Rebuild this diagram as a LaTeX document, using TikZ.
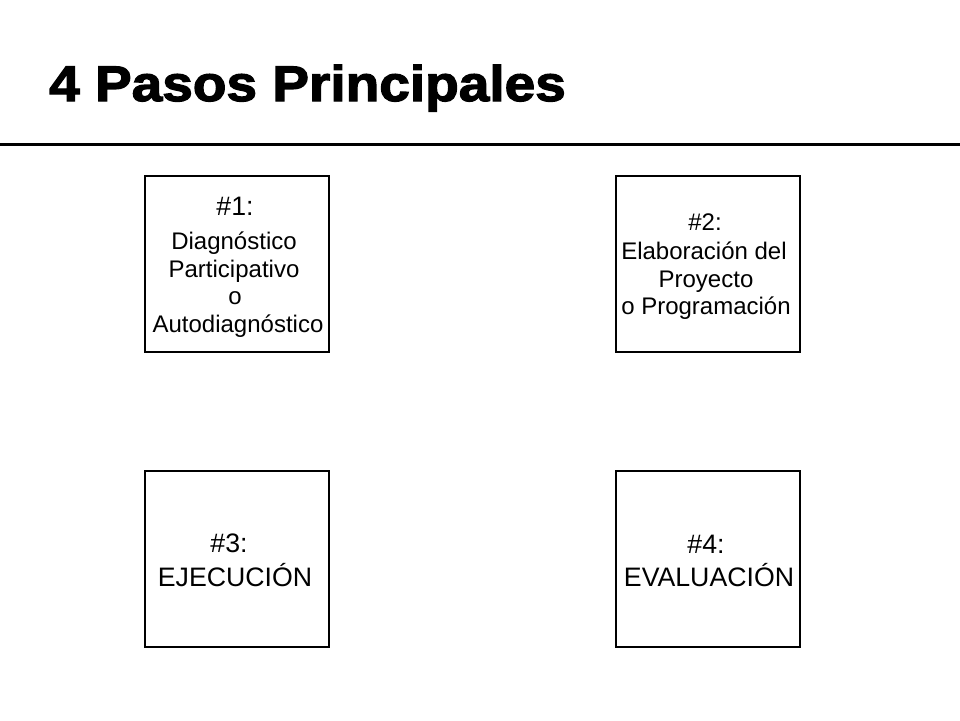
\documentclass[tikz,border=0pt]{standalone}
\usepackage{fontspec}
\setmainfont{Liberation Sans}
\newfontfamily\titlefont{Liberation Sans}[FakeStretch=1.1,FakeBold=2.5]
\tikzset{
  stepbox/.style={draw=black, line width=1.2pt, minimum width=184pt, minimum height=176pt, inner sep=0pt, outer sep=0pt},
  smalltxt/.style={anchor=base, inner sep=0pt, font=\fontsize{24}{28}\selectfont},
  bigtxt/.style={anchor=base, inner sep=0pt, font=\fontsize{26.7}{31}\selectfont},
  titletxt/.style={anchor=base west, inner sep=0pt, font=\titlefont\bfseries\fontsize{50}{56}\selectfont}
}
\begin{document}
\begin{tikzpicture}[x=1pt,y=-1pt]
  \fill[white] (0,0) rectangle (960,720);
  \useasboundingbox (0,0) rectangle (960,720);
  % title
  \node[titletxt] (title) at (49,101) {4 Pasos Principales};
  \coordinate (ruleL) at (0,144.5);
  \coordinate (ruleR) at (960,144.5);
  \draw[line width=3.5pt] (ruleL) -- (ruleR);
  % boxes
  \node[stepbox] (b1) at (237,264) {};
  \node[stepbox] (b2) at (708,264) {};
  \node[stepbox] (b3) at (237,559) {};
  \node[stepbox] (b4) at (708,559) {};
  % box 1 text
  \node[bigtxt] (t1a) at (235,215) {\#1:};
  \node[smalltxt] (t1b) at (234,249.5) {Diagnóstico};
  \node[smalltxt] (t1c) at (234,277.5) {Participativo};
  \node[smalltxt] (t1d) at (235,304) {o};
  \node[smalltxt] (t1e) at (238,332) {Autodiagnóstico};
  % box 2 text
  \node[smalltxt] (t2a) at (705,230) {\#2:};
  \node[smalltxt] (t2b) at (704,259) {Elaboración del};
  \node[smalltxt] (t2c) at (706,287) {Proyecto};
  \node[smalltxt] (t2d) at (706,314) {o Programación};
  % box 3 text
  \node[bigtxt] (t3a) at (229,552.5) {\#3:};
  \node[bigtxt] (t3b) at (235,586) {EJECUCIÓN};
  % box 4 text
  \node[bigtxt] (t4a) at (706,553) {\#4:};
  \node[bigtxt] (t4b) at (709,586) {EVALUACIÓN};
\end{tikzpicture}
\end{document}
